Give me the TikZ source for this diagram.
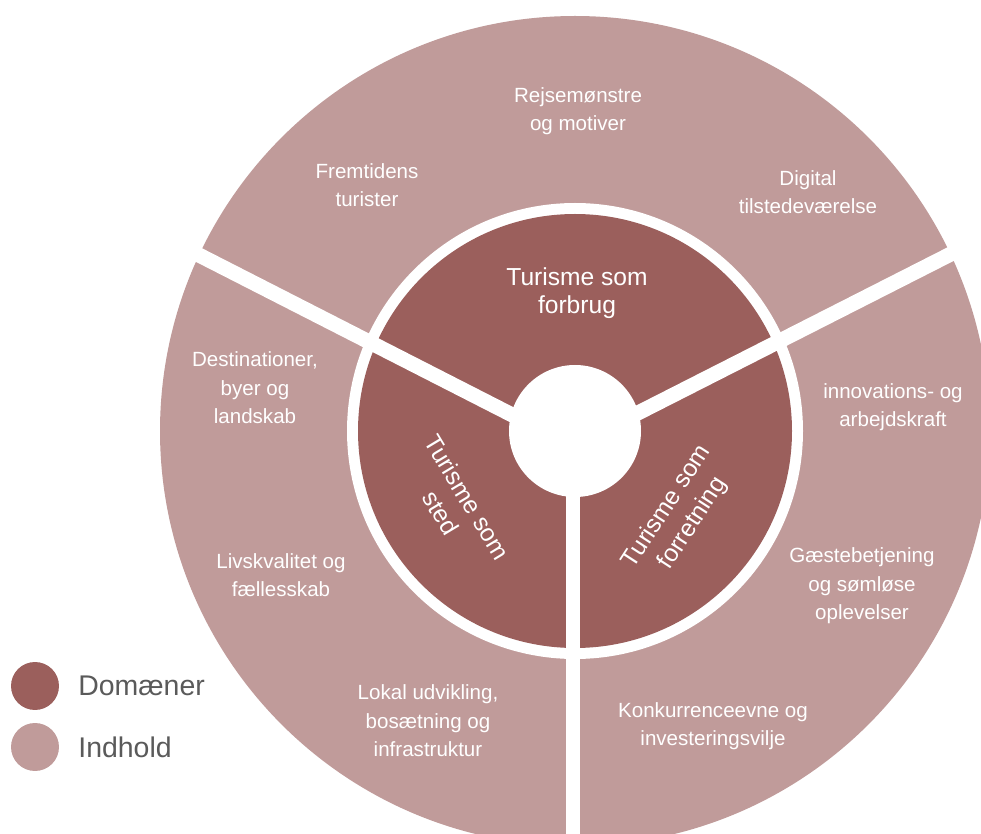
\documentclass[tikz,border=0pt]{standalone}
\usepackage{fontspec}
\setmainfont{Liberation Sans}
\definecolor{dom}{RGB}{155,95,92}
\definecolor{ind}{RGB}{192,155,154}
\definecolor{leg}{RGB}{90,90,90}
\begin{document}
\begin{tikzpicture}[x=0.02cm,y=0.02cm,
  outertext/.style={text=white,align=center,inner sep=0pt,font=\fontsize{11.7}{16.2}\selectfont},
  domtext/.style={text=white,align=center,inner sep=0pt,font=\fontsize{14}{15.8}\selectfont},
  rottext/.style={text=white,align=center,inner sep=0pt,font=\fontsize{14}{17.5}\selectfont},
  sepbar/.style={white,line width=8.5pt},
  legdot/.style={circle,inner sep=0pt,minimum size=0.96cm},
  legtext/.style={text=leg,anchor=west,inner sep=0pt,font=\fontsize{16.2}{19}\selectfont}]
\useasboundingbox (0,0) rectangle (981,-834);
\begin{scope}
\clip (0,0) rectangle (981,-834);
\coordinate (c) at (575,-431);
\fill[ind] (c) circle[radius=415];
\fill[white] (c) circle[radius=228];
\fill[dom] (c) circle[radius=217];
\fill[white] (c) circle[radius=66];
\coordinate (hub) at (573,-446);
\coordinate (ul) at (146,-228);
\coordinate (ur) at (1002,-228);
\coordinate (dn) at (573,-860);
\draw[sepbar] (hub) -- (ul);
\draw[sepbar] (hub) -- (ur);
\draw[sepbar] (hub) -- (dn);
\end{scope}
\node[outertext] (t1) at (578,-111) {Rejsemønstre\\og motiver};
\node[outertext] (t2) at (367,-185) {Fremtidens\\turister};
\node[outertext] (t3) at (808,-192) {Digital\\tilstedeværelse};
\node[domtext] (d1) at (577,-293) {Turisme som\\forbrug};
\node[outertext] (t4) at (255,-388) {Destinationer,\\byer og\\landskab};
\node[outertext] (t5) at (281,-575) {Livskvalitet og\\fællesskab};
\node[outertext] (t6) at (428,-721) {Lokal udvikling,\\bosætning og\\infrastruktur};
\node[outertext] (t7) at (893,-407) {innovations- og\\arbejdskraft};
\node[outertext] (t8) at (862,-586) {Gæstebetjening\\og sømløse\\oplevelser};
\node[outertext] (t9) at (713,-726) {Konkurrenceevne og\\investeringsvilje};
\node[rottext,rotate=-59] (d2) at (454,-505) {Turisme som\\sted};
\node[rottext,rotate=57] (d3) at (680,-515) {Turisme som\\forretning};
\node[legdot,fill=dom] (l1) at (35,-686) {};
\node[legdot,fill=ind] (l2) at (35,-747) {};
\node[legtext] (l1t) at (78,-686) {Domæner};
\node[legtext] (l2t) at (78,-747) {Indhold};
\end{tikzpicture}
\end{document}
